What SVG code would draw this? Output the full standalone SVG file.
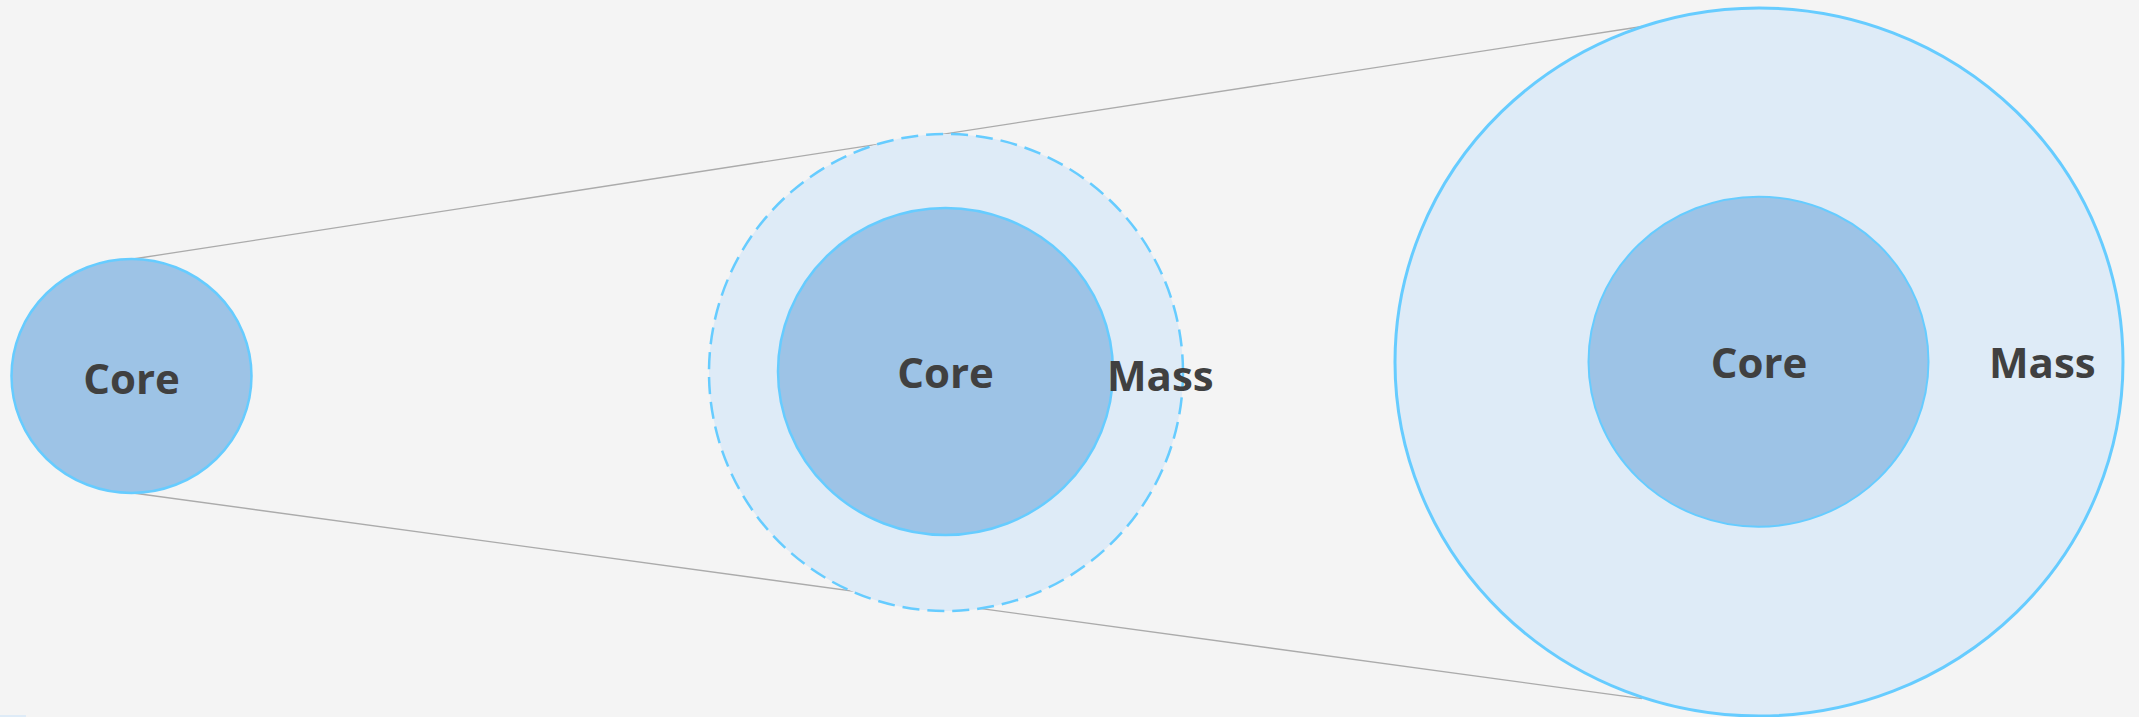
<svg xmlns="http://www.w3.org/2000/svg" width="2139" height="717" viewBox="0 0 2139 717">
<style>
.bg{fill:#F4F4F4}
.conn{stroke:#ABABAB;stroke-width:1.3;fill:none}
.inner{fill:#9DC3E6;stroke:#66CCFF;stroke-width:2.5}
.outer{fill:#DEEBF7;stroke:#66CCFF;stroke-width:3}
.dashed{fill:#DEEBF7;stroke:#66CCFF;stroke-width:2.5;stroke-dasharray:17 8}
.lbl{font-family:"Open Sans","Liberation Sans",sans-serif;font-weight:bold;font-size:42px;fill:#404040}
</style>
<rect class="bg" x="0" y="0" width="2139" height="717"/>
<rect x="0" y="715" width="26" height="2" fill="#DEEBF7"/>
<g id="connectors">
<line class="conn" x1="133" y1="259" x2="1642" y2="26.5"/>
<line class="conn" x1="133" y1="493" x2="1642" y2="698.7"/>
</g>
<g id="node-small">
<ellipse class="inner" cx="131.5" cy="376" rx="120" ry="117"/>
<text class="lbl" x="131.5" y="394" text-anchor="middle">Core</text>
</g>
<g id="node-middle">
<ellipse class="dashed" cx="946" cy="372.5" rx="237" ry="238.5"/>
<ellipse class="inner" cx="945.5" cy="371.5" rx="167.5" ry="163.5"/>
<text class="lbl" x="945.5" y="388" text-anchor="middle">Core</text>
<text class="lbl" x="1107" y="391">Mass</text>
</g>
<g id="node-large">
<ellipse class="outer" cx="1759" cy="362" rx="364" ry="354"/>
<ellipse class="inner" cx="1758.5" cy="361.7" rx="170" ry="165" style="stroke-width:2"/>
<text class="lbl" x="1759" y="378" text-anchor="middle">Core</text>
<text class="lbl" x="1989" y="378">Mass</text>
</g>
</svg>
